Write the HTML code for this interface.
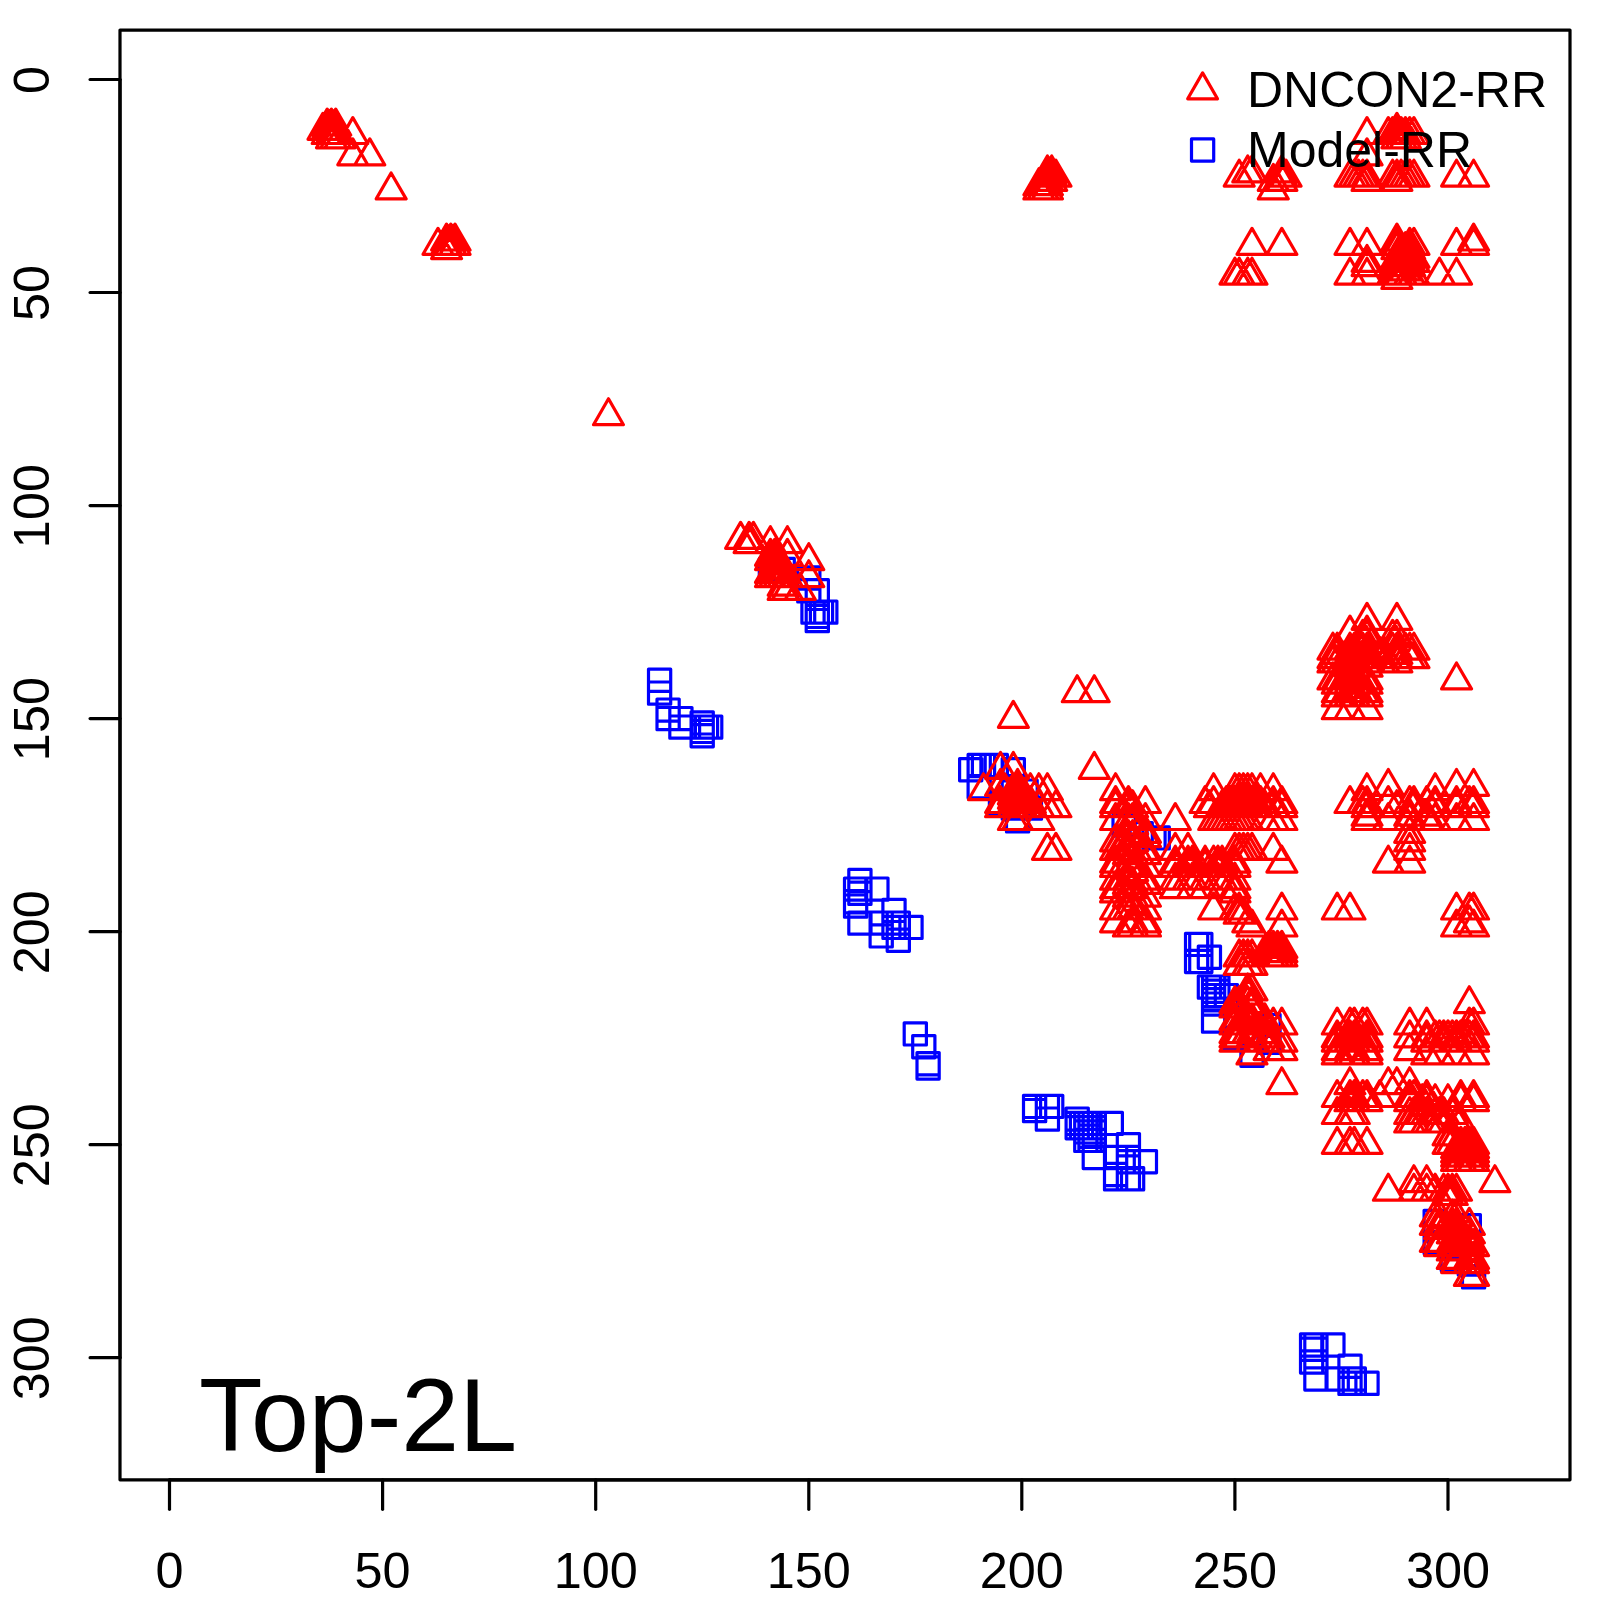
<!DOCTYPE html>
<html><head><meta charset="utf-8"><title>Top-2L</title>
<style>
html,body{margin:0;padding:0;background:#fff;}
svg{display:block;}
text{font-family:"Liberation Sans",sans-serif;font-size:50px;fill:#000;}
text.ax{font-size:50.4px;}
</style></head><body>
<svg width="1600" height="1600" viewBox="0 0 1600 1600">
<rect x="0" y="0" width="1600" height="1600" fill="#fff"/>
<path d="M759.3 558.4h22.2v22.2h-22.2ZM772.1 558.4h22.2v22.2h-22.2ZM797.7 566.9h22.2v22.2h-22.2ZM797.7 579.7h22.2v22.2h-22.2ZM806.2 579.7h22.2v22.2h-22.2ZM801.9 601.0h22.2v22.2h-22.2ZM806.2 601.0h22.2v22.2h-22.2ZM810.4 601.0h22.2v22.2h-22.2ZM814.7 601.0h22.2v22.2h-22.2ZM806.2 605.3h22.2v22.2h-22.2ZM806.2 609.5h22.2v22.2h-22.2ZM648.5 669.2h22.2v22.2h-22.2ZM648.5 682.0h22.2v22.2h-22.2ZM657.0 699.0h22.2v22.2h-22.2ZM657.0 707.5h22.2v22.2h-22.2ZM669.8 707.5h22.2v22.2h-22.2ZM691.1 711.8h22.2v22.2h-22.2ZM669.8 716.0h22.2v22.2h-22.2ZM691.1 716.0h22.2v22.2h-22.2ZM695.4 716.0h22.2v22.2h-22.2ZM699.6 716.0h22.2v22.2h-22.2ZM691.1 720.3h22.2v22.2h-22.2ZM691.1 724.6h22.2v22.2h-22.2ZM968.1 754.4h22.2v22.2h-22.2ZM972.4 754.4h22.2v22.2h-22.2ZM980.9 754.4h22.2v22.2h-22.2ZM985.2 754.4h22.2v22.2h-22.2ZM959.6 758.6h22.2v22.2h-22.2ZM1002.2 758.6h22.2v22.2h-22.2ZM968.1 775.7h22.2v22.2h-22.2ZM1002.2 775.7h22.2v22.2h-22.2ZM1015.0 780.0h22.2v22.2h-22.2ZM989.4 792.7h22.2v22.2h-22.2ZM1002.2 797.0h22.2v22.2h-22.2ZM1019.3 797.0h22.2v22.2h-22.2ZM1006.5 809.8h22.2v22.2h-22.2ZM1113.0 814.0h22.2v22.2h-22.2ZM1142.9 826.8h22.2v22.2h-22.2ZM1147.1 826.8h22.2v22.2h-22.2ZM1130.1 822.6h22.2v22.2h-22.2ZM848.8 869.4h22.2v22.2h-22.2ZM844.5 878.0h22.2v22.2h-22.2ZM865.8 878.0h22.2v22.2h-22.2ZM848.8 882.2h22.2v22.2h-22.2ZM844.5 890.7h22.2v22.2h-22.2ZM844.5 895.0h22.2v22.2h-22.2ZM882.9 899.3h22.2v22.2h-22.2ZM848.8 912.0h22.2v22.2h-22.2ZM870.1 912.0h22.2v22.2h-22.2ZM882.9 912.0h22.2v22.2h-22.2ZM887.2 912.0h22.2v22.2h-22.2ZM882.9 916.3h22.2v22.2h-22.2ZM887.2 916.3h22.2v22.2h-22.2ZM899.9 916.3h22.2v22.2h-22.2ZM870.1 924.8h22.2v22.2h-22.2ZM887.2 929.1h22.2v22.2h-22.2ZM1185.5 933.3h22.2v22.2h-22.2ZM1189.7 933.3h22.2v22.2h-22.2ZM1198.3 946.1h22.2v22.2h-22.2ZM1185.5 950.4h22.2v22.2h-22.2ZM1189.7 950.4h22.2v22.2h-22.2ZM1198.3 976.0h22.2v22.2h-22.2ZM1202.5 976.0h22.2v22.2h-22.2ZM1206.8 976.0h22.2v22.2h-22.2ZM1202.5 980.2h22.2v22.2h-22.2ZM1206.8 980.2h22.2v22.2h-22.2ZM1202.5 984.5h22.2v22.2h-22.2ZM1206.8 984.5h22.2v22.2h-22.2ZM1215.3 984.5h22.2v22.2h-22.2ZM1202.5 988.7h22.2v22.2h-22.2ZM1202.5 993.0h22.2v22.2h-22.2ZM1202.5 1010.0h22.2v22.2h-22.2ZM1223.8 1027.1h22.2v22.2h-22.2ZM1240.9 1044.1h22.2v22.2h-22.2ZM1257.9 1014.3h22.2v22.2h-22.2ZM1257.9 1031.3h22.2v22.2h-22.2ZM904.2 1022.8h22.2v22.2h-22.2ZM912.7 1035.6h22.2v22.2h-22.2ZM917.0 1052.6h22.2v22.2h-22.2ZM917.0 1056.9h22.2v22.2h-22.2ZM1023.5 1095.3h22.2v22.2h-22.2ZM1036.3 1095.3h22.2v22.2h-22.2ZM1040.6 1095.3h22.2v22.2h-22.2ZM1023.5 1099.5h22.2v22.2h-22.2ZM1036.3 1108.0h22.2v22.2h-22.2ZM1066.1 1108.0h22.2v22.2h-22.2ZM1066.1 1112.3h22.2v22.2h-22.2ZM1070.4 1112.3h22.2v22.2h-22.2ZM1074.7 1112.3h22.2v22.2h-22.2ZM1078.9 1112.3h22.2v22.2h-22.2ZM1083.2 1112.3h22.2v22.2h-22.2ZM1100.2 1112.3h22.2v22.2h-22.2ZM1066.1 1116.6h22.2v22.2h-22.2ZM1070.4 1116.6h22.2v22.2h-22.2ZM1074.7 1116.6h22.2v22.2h-22.2ZM1078.9 1116.6h22.2v22.2h-22.2ZM1083.2 1116.6h22.2v22.2h-22.2ZM1074.7 1120.8h22.2v22.2h-22.2ZM1083.2 1120.8h22.2v22.2h-22.2ZM1078.9 1125.1h22.2v22.2h-22.2ZM1074.7 1129.3h22.2v22.2h-22.2ZM1078.9 1129.3h22.2v22.2h-22.2ZM1083.2 1129.3h22.2v22.2h-22.2ZM1083.2 1146.4h22.2v22.2h-22.2ZM1104.5 1146.4h22.2v22.2h-22.2ZM1117.3 1146.4h22.2v22.2h-22.2ZM1117.3 1133.6h22.2v22.2h-22.2ZM1117.3 1150.6h22.2v22.2h-22.2ZM1134.3 1150.6h22.2v22.2h-22.2ZM1104.5 1163.4h22.2v22.2h-22.2ZM1104.5 1167.7h22.2v22.2h-22.2ZM1117.3 1167.7h22.2v22.2h-22.2ZM1121.5 1167.7h22.2v22.2h-22.2ZM1424.1 1210.3h22.2v22.2h-22.2ZM1424.1 1231.6h22.2v22.2h-22.2ZM1428.4 1231.6h22.2v22.2h-22.2ZM1458.2 1214.6h22.2v22.2h-22.2ZM1445.4 1235.9h22.2v22.2h-22.2ZM1441.2 1248.6h22.2v22.2h-22.2ZM1458.2 1252.9h22.2v22.2h-22.2ZM1462.5 1265.7h22.2v22.2h-22.2ZM1300.5 1333.9h22.2v22.2h-22.2ZM1304.8 1333.9h22.2v22.2h-22.2ZM1321.8 1333.9h22.2v22.2h-22.2ZM1300.5 1338.1h22.2v22.2h-22.2ZM1304.8 1338.1h22.2v22.2h-22.2ZM1300.5 1350.9h22.2v22.2h-22.2ZM1304.8 1350.9h22.2v22.2h-22.2ZM1304.8 1367.9h22.2v22.2h-22.2ZM1326.1 1367.9h22.2v22.2h-22.2ZM1338.9 1367.9h22.2v22.2h-22.2ZM1343.2 1367.9h22.2v22.2h-22.2ZM1338.9 1355.2h22.2v22.2h-22.2ZM1338.9 1372.2h22.2v22.2h-22.2ZM1343.2 1372.2h22.2v22.2h-22.2ZM1355.9 1372.2h22.2v22.2h-22.2Z" fill="none" stroke="#0000ff" stroke-width="3.2" stroke-linejoin="round"/>
<path d="M327.2 109.1L342.1 135.0L312.2 135.0ZM331.4 109.1L346.4 135.0L316.5 135.0ZM335.7 109.1L350.7 135.0L320.8 135.0ZM322.9 113.4L337.9 139.3L308.0 139.3ZM327.2 113.4L342.1 139.3L312.2 139.3ZM331.4 113.4L346.4 139.3L316.5 139.3ZM335.7 113.4L350.7 139.3L320.8 139.3ZM327.2 117.6L342.1 143.5L312.2 143.5ZM331.4 117.6L346.4 143.5L316.5 143.5ZM335.7 117.6L350.7 143.5L320.8 143.5ZM352.8 117.6L367.7 143.5L337.8 143.5ZM331.4 121.9L346.4 147.8L316.5 147.8ZM335.7 121.9L350.7 147.8L320.8 147.8ZM340.0 121.9L354.9 147.8L325.0 147.8ZM352.8 138.9L367.7 164.8L337.8 164.8ZM369.8 138.9L384.7 164.8L354.9 164.8ZM391.1 173.0L406.1 198.9L376.2 198.9ZM446.5 224.1L461.5 250.0L431.6 250.0ZM450.8 224.1L465.7 250.0L435.8 250.0ZM455.0 224.1L470.0 250.0L440.1 250.0ZM438.0 228.4L452.9 254.3L423.0 254.3ZM446.5 228.4L461.5 254.3L431.6 254.3ZM450.8 228.4L465.7 254.3L435.8 254.3ZM455.0 228.4L470.0 254.3L440.1 254.3ZM446.5 232.7L461.5 258.6L431.6 258.6ZM608.5 398.8L623.4 424.7L593.5 424.7ZM740.6 522.4L755.5 548.3L725.6 548.3ZM749.1 522.4L764.0 548.3L734.1 548.3ZM753.4 522.4L768.3 548.3L738.4 548.3ZM749.1 526.7L764.0 552.6L734.1 552.6ZM770.4 526.7L785.3 552.6L755.5 552.6ZM787.4 526.7L802.4 552.6L772.5 552.6ZM770.4 539.4L785.3 565.3L755.5 565.3ZM774.7 539.4L789.6 565.3L759.7 565.3ZM787.4 539.4L802.4 565.3L772.5 565.3ZM770.4 543.7L785.3 569.6L755.5 569.6ZM774.7 543.7L789.6 569.6L759.7 569.6ZM778.9 543.7L793.9 569.6L764.0 569.6ZM808.8 543.7L823.7 569.6L793.8 569.6ZM774.7 548.0L789.6 573.9L759.7 573.9ZM778.9 548.0L793.9 573.9L764.0 573.9ZM774.7 552.2L789.6 578.1L759.7 578.1ZM778.9 552.2L793.9 578.1L764.0 578.1ZM783.2 552.2L798.1 578.1L768.2 578.1ZM770.4 556.5L785.3 582.4L755.5 582.4ZM774.7 556.5L789.6 582.4L759.7 582.4ZM778.9 556.5L793.9 582.4L764.0 582.4ZM783.2 556.5L798.1 582.4L768.2 582.4ZM770.4 560.8L785.3 586.6L755.5 586.6ZM774.7 560.8L789.6 586.6L759.7 586.6ZM778.9 560.8L793.9 586.6L764.0 586.6ZM783.2 560.8L798.1 586.6L768.2 586.6ZM787.4 560.8L802.4 586.6L772.5 586.6ZM808.8 560.8L823.7 586.6L793.8 586.6ZM783.2 569.3L798.1 595.2L768.2 595.2ZM783.2 573.5L798.1 599.4L768.2 599.4ZM787.4 573.5L802.4 599.4L772.5 599.4ZM800.2 573.5L815.2 599.4L785.3 599.4ZM1047.4 156.0L1062.4 181.9L1032.5 181.9ZM1051.7 156.0L1066.6 181.9L1036.7 181.9ZM1047.4 160.2L1062.4 186.1L1032.5 186.1ZM1051.7 160.2L1066.6 186.1L1036.7 186.1ZM1055.9 160.2L1070.9 186.1L1041.0 186.1ZM1043.1 164.5L1058.1 190.4L1028.2 190.4ZM1047.4 164.5L1062.4 190.4L1032.5 190.4ZM1051.7 164.5L1066.6 190.4L1036.7 190.4ZM1038.9 168.8L1053.8 194.7L1023.9 194.7ZM1043.1 168.8L1058.1 194.7L1028.2 194.7ZM1047.4 168.8L1062.4 194.7L1032.5 194.7ZM1038.9 173.0L1053.8 198.9L1023.9 198.9ZM1043.1 173.0L1058.1 198.9L1028.2 198.9ZM1047.4 173.0L1062.4 198.9L1032.5 198.9ZM1396.9 113.4L1411.8 139.3L1381.9 139.3ZM1367.0 117.6L1382.0 143.5L1352.1 143.5ZM1388.3 117.6L1403.3 143.5L1373.4 143.5ZM1392.6 117.6L1407.6 143.5L1377.7 143.5ZM1396.9 117.6L1411.8 143.5L1381.9 143.5ZM1401.1 117.6L1416.1 143.5L1386.2 143.5ZM1405.4 117.6L1420.3 143.5L1390.4 143.5ZM1409.7 117.6L1424.6 143.5L1394.7 143.5ZM1413.9 117.6L1428.9 143.5L1399.0 143.5ZM1396.9 121.9L1411.8 147.8L1381.9 147.8ZM1401.1 121.9L1416.1 147.8L1386.2 147.8ZM1405.4 121.9L1420.3 147.8L1390.4 147.8ZM1367.0 138.9L1382.0 164.8L1352.1 164.8ZM1247.7 156.0L1262.7 181.9L1232.8 181.9ZM1252.0 156.0L1266.9 181.9L1237.0 181.9ZM1281.8 156.0L1296.8 181.9L1266.9 181.9ZM1239.2 160.2L1254.1 186.1L1224.2 186.1ZM1281.8 160.2L1296.8 186.1L1266.9 186.1ZM1286.1 160.2L1301.0 186.1L1271.1 186.1ZM1350.0 160.2L1364.9 186.1L1335.0 186.1ZM1354.3 160.2L1369.2 186.1L1339.3 186.1ZM1358.5 160.2L1373.5 186.1L1343.6 186.1ZM1362.8 160.2L1377.7 186.1L1347.8 186.1ZM1367.0 160.2L1382.0 186.1L1352.1 186.1ZM1392.6 160.2L1407.6 186.1L1377.7 186.1ZM1396.9 160.2L1411.8 186.1L1381.9 186.1ZM1401.1 160.2L1416.1 186.1L1386.2 186.1ZM1405.4 160.2L1420.3 186.1L1390.4 186.1ZM1409.7 160.2L1424.6 186.1L1394.7 186.1ZM1413.9 160.2L1428.9 186.1L1399.0 186.1ZM1456.5 160.2L1471.5 186.1L1441.6 186.1ZM1473.6 160.2L1488.5 186.1L1458.6 186.1ZM1273.3 164.5L1288.2 190.4L1258.3 190.4ZM1281.8 164.5L1296.8 190.4L1266.9 190.4ZM1367.0 164.5L1382.0 190.4L1352.1 190.4ZM1396.9 164.5L1411.8 190.4L1381.9 190.4ZM1273.3 173.0L1288.2 198.9L1258.3 198.9ZM1396.9 224.1L1411.8 250.0L1381.9 250.0ZM1473.6 224.1L1488.5 250.0L1458.6 250.0ZM1252.0 228.4L1266.9 254.3L1237.0 254.3ZM1281.8 228.4L1296.8 254.3L1266.9 254.3ZM1350.0 228.4L1364.9 254.3L1335.0 254.3ZM1367.0 228.4L1382.0 254.3L1352.1 254.3ZM1396.9 228.4L1411.8 254.3L1381.9 254.3ZM1409.7 228.4L1424.6 254.3L1394.7 254.3ZM1413.9 228.4L1428.9 254.3L1399.0 254.3ZM1456.5 228.4L1471.5 254.3L1441.6 254.3ZM1473.6 228.4L1488.5 254.3L1458.6 254.3ZM1396.9 232.7L1411.8 258.6L1381.9 258.6ZM1401.1 232.7L1416.1 258.6L1386.2 258.6ZM1405.4 232.7L1420.3 258.6L1390.4 258.6ZM1409.7 232.7L1424.6 258.6L1394.7 258.6ZM1401.1 236.9L1416.1 262.8L1386.2 262.8ZM1405.4 236.9L1420.3 262.8L1390.4 262.8ZM1409.7 236.9L1424.6 262.8L1394.7 262.8ZM1396.9 241.2L1411.8 267.1L1381.9 267.1ZM1401.1 241.2L1416.1 267.1L1386.2 267.1ZM1405.4 241.2L1420.3 267.1L1390.4 267.1ZM1409.7 241.2L1424.6 267.1L1394.7 267.1ZM1413.9 241.2L1428.9 267.1L1399.0 267.1ZM1367.0 245.5L1382.0 271.3L1352.1 271.3ZM1396.9 245.5L1411.8 271.3L1381.9 271.3ZM1401.1 245.5L1416.1 271.3L1386.2 271.3ZM1405.4 245.5L1420.3 271.3L1390.4 271.3ZM1409.7 245.5L1424.6 271.3L1394.7 271.3ZM1413.9 245.5L1428.9 271.3L1399.0 271.3ZM1367.0 249.7L1382.0 275.6L1352.1 275.6ZM1396.9 249.7L1411.8 275.6L1381.9 275.6ZM1401.1 249.7L1416.1 275.6L1386.2 275.6ZM1405.4 249.7L1420.3 275.6L1390.4 275.6ZM1409.7 249.7L1424.6 275.6L1394.7 275.6ZM1396.9 254.0L1411.8 279.9L1381.9 279.9ZM1401.1 254.0L1416.1 279.9L1386.2 279.9ZM1405.4 254.0L1420.3 279.9L1390.4 279.9ZM1234.9 258.2L1249.9 284.1L1220.0 284.1ZM1239.2 258.2L1254.1 284.1L1224.2 284.1ZM1247.7 258.2L1262.7 284.1L1232.8 284.1ZM1252.0 258.2L1266.9 284.1L1237.0 284.1ZM1350.0 258.2L1364.9 284.1L1335.0 284.1ZM1367.0 258.2L1382.0 284.1L1352.1 284.1ZM1392.6 258.2L1407.6 284.1L1377.7 284.1ZM1396.9 258.2L1411.8 284.1L1381.9 284.1ZM1401.1 258.2L1416.1 284.1L1386.2 284.1ZM1409.7 258.2L1424.6 284.1L1394.7 284.1ZM1413.9 258.2L1428.9 284.1L1399.0 284.1ZM1439.5 258.2L1454.4 284.1L1424.5 284.1ZM1456.5 258.2L1471.5 284.1L1441.6 284.1ZM1396.9 262.5L1411.8 288.4L1381.9 288.4ZM1367.0 603.4L1382.0 629.3L1352.1 629.3ZM1396.9 603.4L1411.8 629.3L1381.9 629.3ZM1350.0 616.1L1364.9 642.0L1335.0 642.0ZM1367.0 616.1L1382.0 642.0L1352.1 642.0ZM1362.8 620.4L1377.7 646.3L1347.8 646.3ZM1367.0 620.4L1382.0 646.3L1352.1 646.3ZM1392.6 620.4L1407.6 646.3L1377.7 646.3ZM1396.9 620.4L1411.8 646.3L1381.9 646.3ZM1332.9 633.2L1347.9 659.1L1318.0 659.1ZM1337.2 633.2L1352.2 659.1L1322.3 659.1ZM1350.0 633.2L1364.9 659.1L1335.0 659.1ZM1354.3 633.2L1369.2 659.1L1339.3 659.1ZM1362.8 633.2L1377.7 659.1L1347.8 659.1ZM1367.0 633.2L1382.0 659.1L1352.1 659.1ZM1392.6 633.2L1407.6 659.1L1377.7 659.1ZM1396.9 633.2L1411.8 659.1L1381.9 659.1ZM1405.4 633.2L1420.3 659.1L1390.4 659.1ZM1409.7 633.2L1424.6 659.1L1394.7 659.1ZM1413.9 633.2L1428.9 659.1L1399.0 659.1ZM1337.2 637.4L1352.2 663.3L1322.3 663.3ZM1350.0 637.4L1364.9 663.3L1335.0 663.3ZM1354.3 637.4L1369.2 663.3L1339.3 663.3ZM1367.0 637.4L1382.0 663.3L1352.1 663.3ZM1379.8 637.4L1394.8 663.3L1364.9 663.3ZM1384.1 637.4L1399.0 663.3L1369.1 663.3ZM1396.9 637.4L1411.8 663.3L1381.9 663.3ZM1332.9 641.7L1347.9 667.6L1318.0 667.6ZM1350.0 641.7L1364.9 667.6L1335.0 667.6ZM1362.8 641.7L1377.7 667.6L1347.8 667.6ZM1367.0 641.7L1382.0 667.6L1352.1 667.6ZM1379.8 641.7L1394.8 667.6L1364.9 667.6ZM1396.9 641.7L1411.8 667.6L1381.9 667.6ZM1409.7 641.7L1424.6 667.6L1394.7 667.6ZM1413.9 641.7L1428.9 667.6L1399.0 667.6ZM1332.9 646.0L1347.9 671.9L1318.0 671.9ZM1337.2 646.0L1352.2 671.9L1322.3 671.9ZM1350.0 646.0L1364.9 671.9L1335.0 671.9ZM1354.3 646.0L1369.2 671.9L1339.3 671.9ZM1367.0 646.0L1382.0 671.9L1352.1 671.9ZM1379.8 646.0L1394.8 671.9L1364.9 671.9ZM1384.1 646.0L1399.0 671.9L1369.1 671.9ZM1396.9 646.0L1411.8 671.9L1381.9 671.9ZM1350.0 650.2L1364.9 676.1L1335.0 676.1ZM1354.3 650.2L1369.2 676.1L1339.3 676.1ZM1367.0 650.2L1382.0 676.1L1352.1 676.1ZM1332.9 663.0L1347.9 688.9L1318.0 688.9ZM1337.2 663.0L1352.2 688.9L1322.3 688.9ZM1350.0 663.0L1364.9 688.9L1335.0 688.9ZM1354.3 663.0L1369.2 688.9L1339.3 688.9ZM1367.0 663.0L1382.0 688.9L1352.1 688.9ZM1456.5 663.0L1471.5 688.9L1441.6 688.9ZM1337.2 667.3L1352.2 693.2L1322.3 693.2ZM1350.0 667.3L1364.9 693.2L1335.0 693.2ZM1354.3 667.3L1369.2 693.2L1339.3 693.2ZM1367.0 667.3L1382.0 693.2L1352.1 693.2ZM1337.2 675.8L1352.2 701.7L1322.3 701.7ZM1350.0 675.8L1364.9 701.7L1335.0 701.7ZM1354.3 675.8L1369.2 701.7L1339.3 701.7ZM1362.8 675.8L1377.7 701.7L1347.8 701.7ZM1367.0 675.8L1382.0 701.7L1352.1 701.7ZM1337.2 680.1L1352.2 705.9L1322.3 705.9ZM1350.0 680.1L1364.9 705.9L1335.0 705.9ZM1354.3 680.1L1369.2 705.9L1339.3 705.9ZM1367.0 680.1L1382.0 705.9L1352.1 705.9ZM1337.2 692.8L1352.2 718.7L1322.3 718.7ZM1350.0 692.8L1364.9 718.7L1335.0 718.7ZM1367.0 692.8L1382.0 718.7L1352.1 718.7ZM1077.2 675.8L1092.2 701.7L1062.3 701.7ZM1094.3 675.8L1109.2 701.7L1079.3 701.7ZM1013.3 701.4L1028.3 727.3L998.4 727.3ZM1000.5 752.5L1015.5 778.4L985.6 778.4ZM1013.3 752.5L1028.3 778.4L998.4 778.4ZM1094.3 752.5L1109.2 778.4L1079.3 778.4ZM1000.5 769.5L1015.5 795.4L985.6 795.4ZM1017.6 769.5L1032.5 795.4L1002.6 795.4ZM983.5 773.8L998.4 799.7L968.5 799.7ZM1004.8 773.8L1019.7 799.7L989.8 799.7ZM1013.3 773.8L1028.3 799.7L998.4 799.7ZM1017.6 773.8L1032.5 799.7L1002.6 799.7ZM1030.4 773.8L1045.3 799.7L1015.4 799.7ZM1038.9 773.8L1053.8 799.7L1023.9 799.7ZM1047.4 773.8L1062.4 799.7L1032.5 799.7ZM1013.3 778.1L1028.3 803.9L998.4 803.9ZM1017.6 778.1L1032.5 803.9L1002.6 803.9ZM1021.8 778.1L1036.8 803.9L1006.9 803.9ZM1013.3 782.3L1028.3 808.2L998.4 808.2ZM1017.6 782.3L1032.5 808.2L1002.6 808.2ZM1021.8 782.3L1036.8 808.2L1006.9 808.2ZM1026.1 782.3L1041.1 808.2L1011.2 808.2ZM1000.5 786.6L1015.5 812.5L985.6 812.5ZM1013.3 786.6L1028.3 812.5L998.4 812.5ZM1017.6 786.6L1032.5 812.5L1002.6 812.5ZM1021.8 786.6L1036.8 812.5L1006.9 812.5ZM1026.1 786.6L1041.1 812.5L1011.2 812.5ZM1030.4 786.6L1045.3 812.5L1015.4 812.5ZM1000.5 790.8L1015.5 816.7L985.6 816.7ZM1013.3 790.8L1028.3 816.7L998.4 816.7ZM1017.6 790.8L1032.5 816.7L1002.6 816.7ZM1021.8 790.8L1036.8 816.7L1006.9 816.7ZM1026.1 790.8L1041.1 816.7L1011.2 816.7ZM1030.4 790.8L1045.3 816.7L1015.4 816.7ZM1038.9 790.8L1053.8 816.7L1023.9 816.7ZM1047.4 790.8L1062.4 816.7L1032.5 816.7ZM1055.9 790.8L1070.9 816.7L1041.0 816.7ZM1013.3 803.6L1028.3 829.5L998.4 829.5ZM1017.6 803.6L1032.5 829.5L1002.6 829.5ZM1038.9 803.6L1053.8 829.5L1023.9 829.5ZM1047.4 833.4L1062.4 859.3L1032.5 859.3ZM1055.9 833.4L1070.9 859.3L1041.0 859.3ZM1115.6 773.8L1130.5 799.7L1100.6 799.7ZM1115.6 786.6L1130.5 812.5L1100.6 812.5ZM1128.4 786.6L1143.3 812.5L1113.4 812.5ZM1145.4 786.6L1160.4 812.5L1130.5 812.5ZM1115.6 790.8L1130.5 816.7L1100.6 816.7ZM1115.6 803.6L1130.5 829.5L1100.6 829.5ZM1115.6 824.9L1130.5 850.8L1100.6 850.8ZM1115.6 833.4L1130.5 859.3L1100.6 859.3ZM1115.6 846.2L1130.5 872.1L1100.6 872.1ZM1115.6 850.5L1130.5 876.4L1100.6 876.4ZM1115.6 863.3L1130.5 889.2L1100.6 889.2ZM1115.6 871.8L1130.5 897.7L1100.6 897.7ZM1115.6 876.1L1130.5 901.9L1100.6 901.9ZM1115.6 893.1L1130.5 919.0L1100.6 919.0ZM1115.6 905.9L1130.5 931.8L1100.6 931.8ZM1128.4 790.8L1143.3 816.7L1113.4 816.7ZM1128.4 803.6L1143.3 829.5L1113.4 829.5ZM1128.4 820.7L1143.3 846.6L1113.4 846.6ZM1128.4 833.4L1143.3 859.3L1113.4 859.3ZM1128.4 837.7L1143.3 863.6L1113.4 863.6ZM1128.4 850.5L1143.3 876.4L1113.4 876.4ZM1128.4 863.3L1143.3 889.2L1113.4 889.2ZM1128.4 867.5L1143.3 893.4L1113.4 893.4ZM1128.4 880.3L1143.3 906.2L1113.4 906.2ZM1128.4 893.1L1143.3 919.0L1113.4 919.0ZM1128.4 910.1L1143.3 936.0L1113.4 936.0ZM1132.6 790.8L1147.6 816.7L1117.7 816.7ZM1132.6 803.6L1147.6 829.5L1117.7 829.5ZM1132.6 807.9L1147.6 833.8L1117.7 833.8ZM1132.6 820.7L1147.6 846.6L1117.7 846.6ZM1132.6 824.9L1147.6 850.8L1117.7 850.8ZM1132.6 837.7L1147.6 863.6L1117.7 863.6ZM1132.6 850.5L1147.6 876.4L1117.7 876.4ZM1132.6 854.7L1147.6 880.6L1117.7 880.6ZM1132.6 867.5L1147.6 893.4L1117.7 893.4ZM1132.6 871.8L1147.6 897.7L1117.7 897.7ZM1132.6 880.3L1147.6 906.2L1117.7 906.2ZM1132.6 893.1L1147.6 919.0L1117.7 919.0ZM1132.6 905.9L1147.6 931.8L1117.7 931.8ZM1132.6 910.1L1147.6 936.0L1117.7 936.0ZM1145.4 803.6L1160.4 829.5L1130.5 829.5ZM1145.4 816.4L1160.4 842.3L1130.5 842.3ZM1145.4 820.7L1160.4 846.6L1130.5 846.6ZM1145.4 833.4L1160.4 859.3L1130.5 859.3ZM1145.4 837.7L1160.4 863.6L1130.5 863.6ZM1145.4 850.5L1160.4 876.4L1130.5 876.4ZM1145.4 863.3L1160.4 889.2L1130.5 889.2ZM1145.4 867.5L1160.4 893.4L1130.5 893.4ZM1145.4 880.3L1160.4 906.2L1130.5 906.2ZM1145.4 893.1L1160.4 919.0L1130.5 919.0ZM1145.4 905.9L1160.4 931.8L1130.5 931.8ZM1145.4 910.1L1160.4 936.0L1130.5 936.0ZM1119.9 824.9L1134.8 850.8L1104.9 850.8ZM1119.9 833.4L1134.8 859.3L1104.9 859.3ZM1175.3 803.6L1190.2 829.5L1160.3 829.5ZM1175.3 833.4L1190.2 859.3L1160.3 859.3ZM1188.0 833.4L1203.0 859.3L1173.1 859.3ZM1175.3 846.2L1190.2 872.1L1160.3 872.1ZM1188.0 846.2L1203.0 872.1L1173.1 872.1ZM1192.3 846.2L1207.3 872.1L1177.4 872.1ZM1205.1 846.2L1220.0 872.1L1190.1 872.1ZM1213.6 846.2L1228.6 872.1L1198.7 872.1ZM1217.9 846.2L1232.8 872.1L1202.9 872.1ZM1222.1 846.2L1237.1 872.1L1207.2 872.1ZM1234.9 846.2L1249.9 872.1L1220.0 872.1ZM1175.3 850.5L1190.2 876.4L1160.3 876.4ZM1188.0 850.5L1203.0 876.4L1173.1 876.4ZM1192.3 850.5L1207.3 876.4L1177.4 876.4ZM1205.1 850.5L1220.0 876.4L1190.1 876.4ZM1217.9 850.5L1232.8 876.4L1202.9 876.4ZM1222.1 850.5L1237.1 876.4L1207.2 876.4ZM1234.9 850.5L1249.9 876.4L1220.0 876.4ZM1175.3 863.3L1190.2 889.2L1160.3 889.2ZM1188.0 863.3L1203.0 889.2L1173.1 889.2ZM1192.3 863.3L1207.3 889.2L1177.4 889.2ZM1205.1 863.3L1220.0 889.2L1190.1 889.2ZM1217.9 863.3L1232.8 889.2L1202.9 889.2ZM1222.1 863.3L1237.1 889.2L1207.2 889.2ZM1234.9 863.3L1249.9 889.2L1220.0 889.2ZM1175.3 871.8L1190.2 897.7L1160.3 897.7ZM1192.3 871.8L1207.3 897.7L1177.4 897.7ZM1205.1 871.8L1220.0 897.7L1190.1 897.7ZM1222.1 871.8L1237.1 897.7L1207.2 897.7ZM1234.9 871.8L1249.9 897.7L1220.0 897.7ZM1234.9 876.1L1249.9 901.9L1220.0 901.9ZM1213.6 773.8L1228.6 799.7L1198.7 799.7ZM1234.9 773.8L1249.9 799.7L1220.0 799.7ZM1239.2 773.8L1254.1 799.7L1224.2 799.7ZM1243.4 773.8L1258.4 799.7L1228.5 799.7ZM1247.7 773.8L1262.7 799.7L1232.8 799.7ZM1252.0 773.8L1266.9 799.7L1237.0 799.7ZM1260.5 773.8L1275.4 799.7L1245.5 799.7ZM1273.3 773.8L1288.2 799.7L1258.3 799.7ZM1205.1 786.6L1220.0 812.5L1190.1 812.5ZM1213.6 786.6L1228.6 812.5L1198.7 812.5ZM1226.4 786.6L1241.4 812.5L1211.5 812.5ZM1230.7 786.6L1245.6 812.5L1215.7 812.5ZM1234.9 786.6L1249.9 812.5L1220.0 812.5ZM1239.2 786.6L1254.1 812.5L1224.2 812.5ZM1243.4 786.6L1258.4 812.5L1228.5 812.5ZM1247.7 786.6L1262.7 812.5L1232.8 812.5ZM1252.0 786.6L1266.9 812.5L1237.0 812.5ZM1256.2 786.6L1271.2 812.5L1241.3 812.5ZM1260.5 786.6L1275.4 812.5L1245.5 812.5ZM1273.3 786.6L1288.2 812.5L1258.3 812.5ZM1281.8 786.6L1296.8 812.5L1266.9 812.5ZM1209.4 790.8L1224.3 816.7L1194.4 816.7ZM1222.1 790.8L1237.1 816.7L1207.2 816.7ZM1226.4 790.8L1241.4 816.7L1211.5 816.7ZM1230.7 790.8L1245.6 816.7L1215.7 816.7ZM1234.9 790.8L1249.9 816.7L1220.0 816.7ZM1239.2 790.8L1254.1 816.7L1224.2 816.7ZM1243.4 790.8L1258.4 816.7L1228.5 816.7ZM1247.7 790.8L1262.7 816.7L1232.8 816.7ZM1252.0 790.8L1266.9 816.7L1237.0 816.7ZM1256.2 790.8L1271.2 816.7L1241.3 816.7ZM1264.8 790.8L1279.7 816.7L1249.8 816.7ZM1273.3 790.8L1288.2 816.7L1258.3 816.7ZM1281.8 790.8L1296.8 816.7L1266.9 816.7ZM1213.6 803.6L1228.6 829.5L1198.7 829.5ZM1217.9 803.6L1232.8 829.5L1202.9 829.5ZM1222.1 803.6L1237.1 829.5L1207.2 829.5ZM1226.4 803.6L1241.4 829.5L1211.5 829.5ZM1230.7 803.6L1245.6 829.5L1215.7 829.5ZM1234.9 803.6L1249.9 829.5L1220.0 829.5ZM1239.2 803.6L1254.1 829.5L1224.2 829.5ZM1243.4 803.6L1258.4 829.5L1228.5 829.5ZM1247.7 803.6L1262.7 829.5L1232.8 829.5ZM1264.8 803.6L1279.7 829.5L1249.8 829.5ZM1273.3 803.6L1288.2 829.5L1258.3 829.5ZM1281.8 803.6L1296.8 829.5L1266.9 829.5ZM1234.9 833.4L1249.9 859.3L1220.0 859.3ZM1239.2 833.4L1254.1 859.3L1224.2 859.3ZM1243.4 833.4L1258.4 859.3L1228.5 859.3ZM1247.7 833.4L1262.7 859.3L1232.8 859.3ZM1252.0 833.4L1266.9 859.3L1237.0 859.3ZM1273.3 833.4L1288.2 859.3L1258.3 859.3ZM1281.8 846.2L1296.8 872.1L1266.9 872.1ZM1388.3 769.5L1403.3 795.4L1373.4 795.4ZM1456.5 769.5L1471.5 795.4L1441.6 795.4ZM1473.6 769.5L1488.5 795.4L1458.6 795.4ZM1367.0 773.8L1382.0 799.7L1352.1 799.7ZM1435.2 773.8L1450.2 799.7L1420.3 799.7ZM1350.0 786.6L1364.9 812.5L1335.0 812.5ZM1362.8 786.6L1377.7 812.5L1347.8 812.5ZM1367.0 786.6L1382.0 812.5L1352.1 812.5ZM1388.3 786.6L1403.3 812.5L1373.4 812.5ZM1409.7 786.6L1424.6 812.5L1394.7 812.5ZM1413.9 786.6L1428.9 812.5L1399.0 812.5ZM1426.7 786.6L1441.7 812.5L1411.8 812.5ZM1435.2 786.6L1450.2 812.5L1420.3 812.5ZM1456.5 786.6L1471.5 812.5L1441.6 812.5ZM1469.3 786.6L1484.3 812.5L1454.4 812.5ZM1473.6 786.6L1488.5 812.5L1458.6 812.5ZM1367.0 790.8L1382.0 816.7L1352.1 816.7ZM1396.9 790.8L1411.8 816.7L1381.9 816.7ZM1413.9 790.8L1428.9 816.7L1399.0 816.7ZM1435.2 790.8L1450.2 816.7L1420.3 816.7ZM1456.5 790.8L1471.5 816.7L1441.6 816.7ZM1473.6 790.8L1488.5 816.7L1458.6 816.7ZM1367.0 799.4L1382.0 825.2L1352.1 825.2ZM1409.7 799.4L1424.6 825.2L1394.7 825.2ZM1426.7 799.4L1441.7 825.2L1411.8 825.2ZM1367.0 803.6L1382.0 829.5L1352.1 829.5ZM1388.3 803.6L1403.3 829.5L1373.4 829.5ZM1409.7 803.6L1424.6 829.5L1394.7 829.5ZM1426.7 803.6L1441.7 829.5L1411.8 829.5ZM1435.2 803.6L1450.2 829.5L1420.3 829.5ZM1456.5 803.6L1471.5 829.5L1441.6 829.5ZM1473.6 803.6L1488.5 829.5L1458.6 829.5ZM1409.7 816.4L1424.6 842.3L1394.7 842.3ZM1409.7 824.9L1424.6 850.8L1394.7 850.8ZM1409.7 833.4L1424.6 859.3L1394.7 859.3ZM1388.3 846.2L1403.3 872.1L1373.4 872.1ZM1409.7 846.2L1424.6 872.1L1394.7 872.1ZM1281.8 893.1L1296.8 919.0L1266.9 919.0ZM1337.2 893.1L1352.2 919.0L1322.3 919.0ZM1350.0 893.1L1364.9 919.0L1335.0 919.0ZM1456.5 893.1L1471.5 919.0L1441.6 919.0ZM1469.3 893.1L1484.3 919.0L1454.4 919.0ZM1473.6 893.1L1488.5 919.0L1458.6 919.0ZM1469.3 905.9L1484.3 931.8L1454.4 931.8ZM1281.8 910.1L1296.8 936.0L1266.9 936.0ZM1456.5 910.1L1471.5 936.0L1441.6 936.0ZM1473.6 910.1L1488.5 936.0L1458.6 936.0ZM1213.6 893.1L1228.6 919.0L1198.7 919.0ZM1234.9 893.1L1249.9 919.0L1220.0 919.0ZM1239.2 893.1L1254.1 919.0L1224.2 919.0ZM1239.2 897.4L1254.1 923.2L1224.2 923.2ZM1243.4 897.4L1258.4 923.2L1228.5 923.2ZM1247.7 905.9L1262.7 931.8L1232.8 931.8ZM1252.0 910.1L1266.9 936.0L1237.0 936.0ZM1269.0 931.4L1284.0 957.3L1254.1 957.3ZM1273.3 931.4L1288.2 957.3L1258.3 957.3ZM1277.5 931.4L1292.5 957.3L1262.6 957.3ZM1281.8 931.4L1296.8 957.3L1266.9 957.3ZM1264.8 935.7L1279.7 961.6L1249.8 961.6ZM1269.0 935.7L1284.0 961.6L1254.1 961.6ZM1273.3 935.7L1288.2 961.6L1258.3 961.6ZM1277.5 935.7L1292.5 961.6L1262.6 961.6ZM1281.8 935.7L1296.8 961.6L1266.9 961.6ZM1239.2 940.0L1254.1 965.9L1224.2 965.9ZM1243.4 940.0L1258.4 965.9L1228.5 965.9ZM1247.7 940.0L1262.7 965.9L1232.8 965.9ZM1252.0 940.0L1266.9 965.9L1237.0 965.9ZM1269.0 940.0L1284.0 965.9L1254.1 965.9ZM1273.3 940.0L1288.2 965.9L1258.3 965.9ZM1277.5 940.0L1292.5 965.9L1262.6 965.9ZM1281.8 940.0L1296.8 965.9L1266.9 965.9ZM1239.2 948.5L1254.1 974.4L1224.2 974.4ZM1247.7 948.5L1262.7 974.4L1232.8 974.4ZM1252.0 948.5L1266.9 974.4L1237.0 974.4ZM1247.7 974.0L1262.7 999.9L1232.8 999.9ZM1252.0 974.0L1266.9 999.9L1237.0 999.9ZM1247.7 978.3L1262.7 1004.2L1232.8 1004.2ZM1234.9 986.8L1249.9 1012.7L1220.0 1012.7ZM1239.2 986.8L1254.1 1012.7L1224.2 1012.7ZM1247.7 986.8L1262.7 1012.7L1232.8 1012.7ZM1252.0 986.8L1266.9 1012.7L1237.0 1012.7ZM1469.3 986.8L1484.3 1012.7L1454.4 1012.7ZM1234.9 991.1L1249.9 1017.0L1220.0 1017.0ZM1239.2 991.1L1254.1 1017.0L1224.2 1017.0ZM1252.0 991.1L1266.9 1017.0L1237.0 1017.0ZM1234.9 1003.9L1249.9 1029.8L1220.0 1029.8ZM1247.7 1003.9L1262.7 1029.8L1232.8 1029.8ZM1252.0 1003.9L1266.9 1029.8L1237.0 1029.8ZM1264.8 1003.9L1279.7 1029.8L1249.8 1029.8ZM1234.9 1008.1L1249.9 1034.0L1220.0 1034.0ZM1239.2 1008.1L1254.1 1034.0L1224.2 1034.0ZM1252.0 1008.1L1266.9 1034.0L1237.0 1034.0ZM1264.8 1008.1L1279.7 1034.0L1249.8 1034.0ZM1273.3 1008.1L1288.2 1034.0L1258.3 1034.0ZM1281.8 1008.1L1296.8 1034.0L1266.9 1034.0ZM1234.9 1016.7L1249.9 1042.6L1220.0 1042.6ZM1247.7 1016.7L1262.7 1042.6L1232.8 1042.6ZM1252.0 1016.7L1266.9 1042.6L1237.0 1042.6ZM1264.8 1016.7L1279.7 1042.6L1249.8 1042.6ZM1234.9 1020.9L1249.9 1046.8L1220.0 1046.8ZM1239.2 1020.9L1254.1 1046.8L1224.2 1046.8ZM1252.0 1020.9L1266.9 1046.8L1237.0 1046.8ZM1264.8 1020.9L1279.7 1046.8L1249.8 1046.8ZM1269.0 1020.9L1284.0 1046.8L1254.1 1046.8ZM1234.9 1025.2L1249.9 1051.1L1220.0 1051.1ZM1252.0 1025.2L1266.9 1051.1L1237.0 1051.1ZM1269.0 1025.2L1284.0 1051.1L1254.1 1051.1ZM1281.8 1025.2L1296.8 1051.1L1266.9 1051.1ZM1269.0 1033.7L1284.0 1059.6L1254.1 1059.6ZM1281.8 1033.7L1296.8 1059.6L1266.9 1059.6ZM1252.0 1038.0L1266.9 1063.9L1237.0 1063.9ZM1281.8 1067.8L1296.8 1093.7L1266.9 1093.7ZM1337.2 1008.1L1352.2 1034.0L1322.3 1034.0ZM1350.0 1008.1L1364.9 1034.0L1335.0 1034.0ZM1354.3 1008.1L1369.2 1034.0L1339.3 1034.0ZM1362.8 1008.1L1377.7 1034.0L1347.8 1034.0ZM1367.0 1008.1L1382.0 1034.0L1352.1 1034.0ZM1409.7 1008.1L1424.6 1034.0L1394.7 1034.0ZM1426.7 1008.1L1441.7 1034.0L1411.8 1034.0ZM1469.3 1008.1L1484.3 1034.0L1454.4 1034.0ZM1473.6 1008.1L1488.5 1034.0L1458.6 1034.0ZM1337.2 1020.9L1352.2 1046.8L1322.3 1046.8ZM1350.0 1020.9L1364.9 1046.8L1335.0 1046.8ZM1354.3 1020.9L1369.2 1046.8L1339.3 1046.8ZM1367.0 1020.9L1382.0 1046.8L1352.1 1046.8ZM1409.7 1020.9L1424.6 1046.8L1394.7 1046.8ZM1426.7 1020.9L1441.7 1046.8L1411.8 1046.8ZM1435.2 1020.9L1450.2 1046.8L1420.3 1046.8ZM1439.5 1020.9L1454.4 1046.8L1424.5 1046.8ZM1443.7 1020.9L1458.7 1046.8L1428.8 1046.8ZM1448.0 1020.9L1463.0 1046.8L1433.1 1046.8ZM1452.3 1020.9L1467.2 1046.8L1437.3 1046.8ZM1456.5 1020.9L1471.5 1046.8L1441.6 1046.8ZM1460.8 1020.9L1475.7 1046.8L1445.8 1046.8ZM1465.1 1020.9L1480.0 1046.8L1450.1 1046.8ZM1469.3 1020.9L1484.3 1046.8L1454.4 1046.8ZM1473.6 1020.9L1488.5 1046.8L1458.6 1046.8ZM1337.2 1025.2L1352.2 1051.1L1322.3 1051.1ZM1350.0 1025.2L1364.9 1051.1L1335.0 1051.1ZM1354.3 1025.2L1369.2 1051.1L1339.3 1051.1ZM1362.8 1025.2L1377.7 1051.1L1347.8 1051.1ZM1367.0 1025.2L1382.0 1051.1L1352.1 1051.1ZM1426.7 1025.2L1441.7 1051.1L1411.8 1051.1ZM1443.7 1025.2L1458.7 1051.1L1428.8 1051.1ZM1456.5 1025.2L1471.5 1051.1L1441.6 1051.1ZM1473.6 1025.2L1488.5 1051.1L1458.6 1051.1ZM1337.2 1033.7L1352.2 1059.6L1322.3 1059.6ZM1350.0 1033.7L1364.9 1059.6L1335.0 1059.6ZM1354.3 1033.7L1369.2 1059.6L1339.3 1059.6ZM1367.0 1033.7L1382.0 1059.6L1352.1 1059.6ZM1409.7 1033.7L1424.6 1059.6L1394.7 1059.6ZM1337.2 1038.0L1352.2 1063.9L1322.3 1063.9ZM1350.0 1038.0L1364.9 1063.9L1335.0 1063.9ZM1354.3 1038.0L1369.2 1063.9L1339.3 1063.9ZM1367.0 1038.0L1382.0 1063.9L1352.1 1063.9ZM1426.7 1038.0L1441.7 1063.9L1411.8 1063.9ZM1439.5 1038.0L1454.4 1063.9L1424.5 1063.9ZM1456.5 1038.0L1471.5 1063.9L1441.6 1063.9ZM1473.6 1038.0L1488.5 1063.9L1458.6 1063.9ZM1350.0 1067.8L1364.9 1093.7L1335.0 1093.7ZM1388.3 1067.8L1403.3 1093.7L1373.4 1093.7ZM1396.9 1067.8L1411.8 1093.7L1381.9 1093.7ZM1409.7 1067.8L1424.6 1093.7L1394.7 1093.7ZM1337.2 1080.6L1352.2 1106.5L1322.3 1106.5ZM1350.0 1080.6L1364.9 1106.5L1335.0 1106.5ZM1354.3 1080.6L1369.2 1106.5L1339.3 1106.5ZM1362.8 1080.6L1377.7 1106.5L1347.8 1106.5ZM1367.0 1080.6L1382.0 1106.5L1352.1 1106.5ZM1379.8 1080.6L1394.8 1106.5L1364.9 1106.5ZM1409.7 1080.6L1424.6 1106.5L1394.7 1106.5ZM1413.9 1080.6L1428.9 1106.5L1399.0 1106.5ZM1426.7 1080.6L1441.7 1106.5L1411.8 1106.5ZM1460.8 1080.6L1475.7 1106.5L1445.8 1106.5ZM1473.6 1080.6L1488.5 1106.5L1458.6 1106.5ZM1350.0 1084.8L1364.9 1110.7L1335.0 1110.7ZM1354.3 1084.8L1369.2 1110.7L1339.3 1110.7ZM1367.0 1084.8L1382.0 1110.7L1352.1 1110.7ZM1409.7 1084.8L1424.6 1110.7L1394.7 1110.7ZM1422.4 1084.8L1437.4 1110.7L1407.5 1110.7ZM1426.7 1084.8L1441.7 1110.7L1411.8 1110.7ZM1435.2 1084.8L1450.2 1110.7L1420.3 1110.7ZM1448.0 1084.8L1463.0 1110.7L1433.1 1110.7ZM1460.8 1084.8L1475.7 1110.7L1445.8 1110.7ZM1473.6 1084.8L1488.5 1110.7L1458.6 1110.7ZM1337.2 1097.6L1352.2 1123.5L1322.3 1123.5ZM1350.0 1097.6L1364.9 1123.5L1335.0 1123.5ZM1354.3 1097.6L1369.2 1123.5L1339.3 1123.5ZM1409.7 1097.6L1424.6 1123.5L1394.7 1123.5ZM1413.9 1097.6L1428.9 1123.5L1399.0 1123.5ZM1422.4 1097.6L1437.4 1123.5L1407.5 1123.5ZM1426.7 1097.6L1441.7 1123.5L1411.8 1123.5ZM1435.2 1097.6L1450.2 1123.5L1420.3 1123.5ZM1439.5 1097.6L1454.4 1123.5L1424.5 1123.5ZM1443.7 1097.6L1458.7 1123.5L1428.8 1123.5ZM1452.3 1097.6L1467.2 1123.5L1437.3 1123.5ZM1409.7 1106.1L1424.6 1132.0L1394.7 1132.0ZM1413.9 1106.1L1428.9 1132.0L1399.0 1132.0ZM1426.7 1106.1L1441.7 1132.0L1411.8 1132.0ZM1431.0 1106.1L1445.9 1132.0L1416.0 1132.0ZM1439.5 1106.1L1454.4 1132.0L1424.5 1132.0ZM1443.7 1106.1L1458.7 1132.0L1428.8 1132.0ZM1456.5 1106.1L1471.5 1132.0L1441.6 1132.0ZM1460.8 1106.1L1475.7 1132.0L1445.8 1132.0ZM1448.0 1118.9L1463.0 1144.8L1433.1 1144.8ZM1452.3 1118.9L1467.2 1144.8L1437.3 1144.8ZM1337.2 1127.4L1352.2 1153.3L1322.3 1153.3ZM1350.0 1127.4L1364.9 1153.3L1335.0 1153.3ZM1354.3 1127.4L1369.2 1153.3L1339.3 1153.3ZM1367.0 1127.4L1382.0 1153.3L1352.1 1153.3ZM1448.0 1127.4L1463.0 1153.3L1433.1 1153.3ZM1452.3 1127.4L1467.2 1153.3L1437.3 1153.3ZM1460.8 1127.4L1475.7 1153.3L1445.8 1153.3ZM1465.1 1127.4L1480.0 1153.3L1450.1 1153.3ZM1469.3 1127.4L1484.3 1153.3L1454.4 1153.3ZM1473.6 1127.4L1488.5 1153.3L1458.6 1153.3ZM1456.5 1131.7L1471.5 1157.6L1441.6 1157.6ZM1460.8 1131.7L1475.7 1157.6L1445.8 1157.6ZM1469.3 1131.7L1484.3 1157.6L1454.4 1157.6ZM1473.6 1131.7L1488.5 1157.6L1458.6 1157.6ZM1456.5 1136.0L1471.5 1161.9L1441.6 1161.9ZM1460.8 1136.0L1475.7 1161.9L1445.8 1161.9ZM1465.1 1136.0L1480.0 1161.9L1450.1 1161.9ZM1469.3 1136.0L1484.3 1161.9L1454.4 1161.9ZM1473.6 1136.0L1488.5 1161.9L1458.6 1161.9ZM1456.5 1140.2L1471.5 1166.1L1441.6 1166.1ZM1460.8 1140.2L1475.7 1166.1L1445.8 1166.1ZM1469.3 1140.2L1484.3 1166.1L1454.4 1166.1ZM1473.6 1140.2L1488.5 1166.1L1458.6 1166.1ZM1456.5 1144.5L1471.5 1170.4L1441.6 1170.4ZM1460.8 1144.5L1475.7 1170.4L1445.8 1170.4ZM1469.3 1144.5L1484.3 1170.4L1454.4 1170.4ZM1473.6 1144.5L1488.5 1170.4L1458.6 1170.4ZM1413.9 1165.8L1428.9 1191.7L1399.0 1191.7ZM1426.7 1165.8L1441.7 1191.7L1411.8 1191.7ZM1494.9 1165.8L1509.8 1191.7L1479.9 1191.7ZM1388.3 1174.3L1403.3 1200.2L1373.4 1200.2ZM1413.9 1174.3L1428.9 1200.2L1399.0 1200.2ZM1426.7 1174.3L1441.7 1200.2L1411.8 1200.2ZM1435.2 1174.3L1450.2 1200.2L1420.3 1200.2ZM1443.7 1174.3L1458.7 1200.2L1428.8 1200.2ZM1448.0 1174.3L1463.0 1200.2L1433.1 1200.2ZM1452.3 1174.3L1467.2 1200.2L1437.3 1200.2ZM1456.5 1174.3L1471.5 1200.2L1441.6 1200.2ZM1448.0 1178.6L1463.0 1204.5L1433.1 1204.5ZM1452.3 1178.6L1467.2 1204.5L1437.3 1204.5ZM1435.2 1199.9L1450.2 1225.8L1420.3 1225.8ZM1439.5 1199.9L1454.4 1225.8L1424.5 1225.8ZM1452.3 1199.9L1467.2 1225.8L1437.3 1225.8ZM1456.5 1199.9L1471.5 1225.8L1441.6 1225.8ZM1435.2 1208.4L1450.2 1234.3L1420.3 1234.3ZM1439.5 1208.4L1454.4 1234.3L1424.5 1234.3ZM1452.3 1208.4L1467.2 1234.3L1437.3 1234.3ZM1456.5 1208.4L1471.5 1234.3L1441.6 1234.3ZM1469.3 1208.4L1484.3 1234.3L1454.4 1234.3ZM1439.5 1212.7L1454.4 1238.5L1424.5 1238.5ZM1452.3 1212.7L1467.2 1238.5L1437.3 1238.5ZM1456.5 1212.7L1471.5 1238.5L1441.6 1238.5ZM1452.3 1216.9L1467.2 1242.8L1437.3 1242.8ZM1456.5 1216.9L1471.5 1242.8L1441.6 1242.8ZM1469.3 1216.9L1484.3 1242.8L1454.4 1242.8ZM1435.2 1225.4L1450.2 1251.3L1420.3 1251.3ZM1439.5 1225.4L1454.4 1251.3L1424.5 1251.3ZM1452.3 1225.4L1467.2 1251.3L1437.3 1251.3ZM1456.5 1225.4L1471.5 1251.3L1441.6 1251.3ZM1469.3 1225.4L1484.3 1251.3L1454.4 1251.3ZM1439.5 1229.7L1454.4 1255.6L1424.5 1255.6ZM1452.3 1229.7L1467.2 1255.6L1437.3 1255.6ZM1456.5 1229.7L1471.5 1255.6L1441.6 1255.6ZM1469.3 1229.7L1484.3 1255.6L1454.4 1255.6ZM1473.6 1229.7L1488.5 1255.6L1458.6 1255.6ZM1452.3 1234.0L1467.2 1259.9L1437.3 1259.9ZM1456.5 1234.0L1471.5 1259.9L1441.6 1259.9ZM1452.3 1242.5L1467.2 1268.4L1437.3 1268.4ZM1456.5 1242.5L1471.5 1268.4L1441.6 1268.4ZM1469.3 1242.5L1484.3 1268.4L1454.4 1268.4ZM1473.6 1242.5L1488.5 1268.4L1458.6 1268.4ZM1456.5 1246.7L1471.5 1272.6L1441.6 1272.6ZM1469.3 1246.7L1484.3 1272.6L1454.4 1272.6ZM1473.6 1246.7L1488.5 1272.6L1458.6 1272.6ZM1469.3 1259.5L1484.3 1285.4L1454.4 1285.4ZM1473.6 1259.5L1488.5 1285.4L1458.6 1285.4Z" fill="none" stroke="#ff0000" stroke-width="3.2" stroke-linejoin="round"/>
<g stroke="#000" stroke-width="3.2" stroke-linecap="round" fill="none">
<path d="M169.5 1479.8H1448"/><path d="M169.5 1479.8V1509.3"/><path d="M382.6 1479.8V1509.3"/><path d="M595.7 1479.8V1509.3"/><path d="M808.8 1479.8V1509.3"/><path d="M1021.8 1479.8V1509.3"/><path d="M1234.9 1479.8V1509.3"/><path d="M1448.0 1479.8V1509.3"/>
<path d="M120 79.5V1357.8"/><path d="M120 79.5H90.1"/><path d="M120 292.5H90.1"/><path d="M120 505.6H90.1"/><path d="M120 718.6H90.1"/><path d="M120 931.7H90.1"/><path d="M120 1144.7H90.1"/><path d="M120 1357.7H90.1"/>
<rect x="120" y="30.1" width="1450" height="1449.7" stroke-linejoin="round"/>
</g>
<text class="ax" x="169.5" y="1588" text-anchor="middle">0</text><text class="ax" x="382.6" y="1588" text-anchor="middle">50</text><text class="ax" x="595.7" y="1588" text-anchor="middle">100</text><text class="ax" x="808.8" y="1588" text-anchor="middle">150</text><text class="ax" x="1021.8" y="1588" text-anchor="middle">200</text><text class="ax" x="1234.9" y="1588" text-anchor="middle">250</text><text class="ax" x="1448.0" y="1588" text-anchor="middle">300</text>
<text class="ax" transform="translate(48.7 80.0) rotate(-90)" text-anchor="middle">0</text><text class="ax" transform="translate(48.7 293.0) rotate(-90)" text-anchor="middle">50</text><text class="ax" transform="translate(48.7 506.1) rotate(-90)" text-anchor="middle">100</text><text class="ax" transform="translate(48.7 719.1) rotate(-90)" text-anchor="middle">150</text><text class="ax" transform="translate(48.7 932.2) rotate(-90)" text-anchor="middle">200</text><text class="ax" transform="translate(48.7 1145.2) rotate(-90)" text-anchor="middle">250</text><text class="ax" transform="translate(48.7 1358.2) rotate(-90)" text-anchor="middle">300</text>
<path d="M1202.6 72.9L1217.5 98.8L1187.7 98.8Z" fill="none" stroke="#ff0000" stroke-width="3.2" stroke-linejoin="round"/>
<path d="M1191.5 138.9h22.2v22.2h-22.2Z" fill="none" stroke="#0000ff" stroke-width="3.2" stroke-linejoin="round"/>
<text x="1247" y="107">DNCON2-RR</text>
<text x="1247" y="166.5">Model-RR</text>
<text x="199" y="1450.5" style="font-size:104px">Top-2L</text>
</svg>
</body></html>
